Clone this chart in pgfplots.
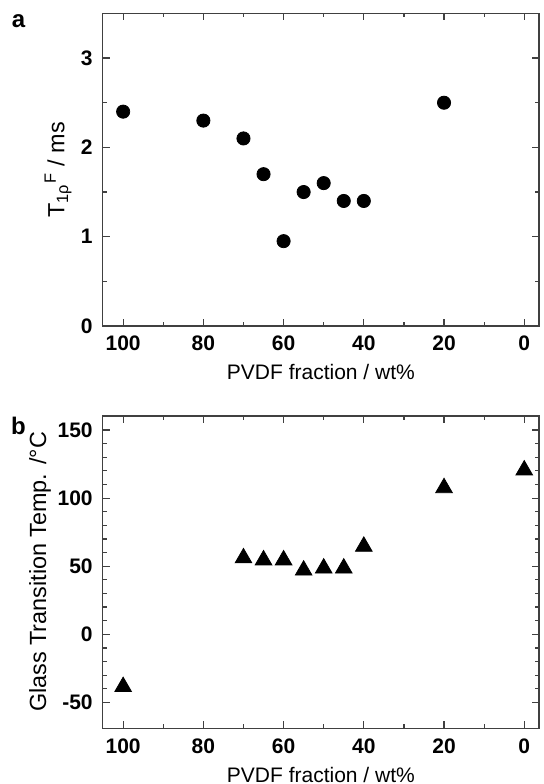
\documentclass[border=0pt]{standalone}
\usepackage{fontspec}
\setmainfont{Liberation Sans}
\usepackage{pgfplots}
\pgfplotsset{compat=1.18}
\begin{document}
\begin{tikzpicture}
\path[use as bounding box] (0pt,0pt) rectangle (272pt,392pt);
\pgfplotsset{
 common/.style={
  scale only axis, x dir=reverse,
  axis line style={line width=0.8pt, black!75},
  tick style={black!75, line width=0.6pt},
  tick align=inside,
  major tick length=3.5pt, minor tick length=2pt,
  xtick={0,20,...,100}, minor x tick num=1,
  /pgf/number format/assume math mode=true,
  tick label style={font=\bfseries\fontsize{10.5}{12}\selectfont},
  xticklabel style={yshift=-1.5pt},
  yticklabel style={xshift=-1.5pt},
  label style={font=\fontsize{10.5}{12.6}\selectfont},
  xlabel style={at={(axis description cs:0.5,-0.172)}, anchor=base},
  clip=false,
 }
}
\begin{axis}[common, at={(51.35pt,229pt)}, anchor=south west,
  width=218.2pt, height=156.3pt,
  xmin=-3.7, xmax=105.1, ymin=0, ymax=3.5,
  ytick={0,1,2,3}, minor y tick num=1,
  xlabel={PVDF fraction / wt\%},
  ylabel={T\textsubscript{1ρ}\textsuperscript{F} / ms},
  ylabel style={at={(axis description cs:-0.1024,0.5)}, anchor=center, font=\fontsize{11.7}{14}\selectfont}]
\addplot[only marks, mark=*, mark size=3.3pt, black] coordinates {
(100,2.4) (80,2.3) (70,2.1) (65,1.7) (60,0.95) (55,1.5) (50,1.6) (45,1.4) (40,1.4) (20,2.5)};
\end{axis}
\begin{axis}[common, at={(51.35pt,27.85pt)}, anchor=south west,
  width=218.2pt, height=156.3pt,
  xmin=-3.7, xmax=105.1, ymin=-69, ymax=160.5,
  ytick={-50,0,...,150}, minor y tick num=4,
  xlabel={PVDF fraction / wt\%},
  ylabel={Glass Transition Temp. /°C},
  ylabel style={at={(axis description cs:-0.1437,0.5)}, anchor=center, font=\fontsize{11.7}{14}\selectfont}]
\addplot[only marks, mark=triangle*, mark size=4.8pt, black] coordinates {
(100,-38.5) (70,56) (65,54.5) (60,54.5) (55,47) (50,48.5) (45,48.5) (40,64.5) (20,107.5) (0,120.5)};
\end{axis}
\node[font=\bfseries\fontsize{12}{14}\selectfont] at (9.25pt,381.5pt) {a};
\node[font=\bfseries\fontsize{12}{14}\selectfont] at (9.25pt,179.25pt) {b};
\end{tikzpicture}
\end{document}
